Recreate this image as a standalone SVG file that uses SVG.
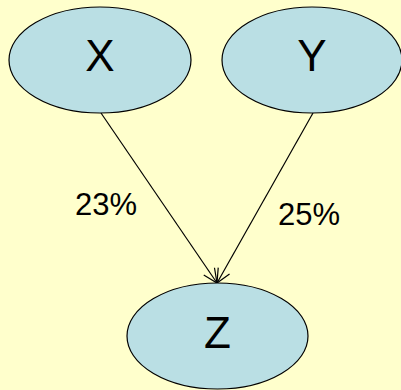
<svg xmlns="http://www.w3.org/2000/svg" width="401" height="390" viewBox="0 0 401 390">
<style>
.node ellipse{fill:#BADFE4;stroke:#000;stroke-width:1.2}
.node text{font-family:"Liberation Sans",Arial,sans-serif;font-size:44px;fill:#000;text-anchor:middle}
.lbl{font-family:"Liberation Sans",Arial,sans-serif;font-size:31px;fill:#000}
.edge{stroke:#000;stroke-width:1.2;fill:none}
</style>
<defs>
<marker id="arr" markerWidth="18" markerHeight="18" refX="15" refY="9" orient="auto" markerUnits="userSpaceOnUse">
<path d="M1,2.5 L15,9 L1,15.5" fill="none" stroke="#000" stroke-width="1.2"/>
</marker>
</defs>
<rect width="401" height="390" fill="#FFFFCC"/>
<g id="connectors">
<line class="edge" x1="101" y1="113" x2="217" y2="283" marker-end="url(#arr)"/>
<line class="edge" x1="313" y1="113" x2="217" y2="283" marker-end="url(#arr)"/>
<text class="lbl" x="75" y="215">23%</text>
<text class="lbl" x="278" y="225">25%</text>
</g>
<g id="X" class="node">
<ellipse cx="100" cy="60" rx="91" ry="53"/>
<text x="100" y="71">X</text>
</g>
<g id="Y" class="node">
<ellipse cx="312" cy="60" rx="90" ry="53"/>
<text x="312" y="71">Y</text>
</g>
<g id="Z" class="node">
<ellipse cx="217.5" cy="336" rx="90.5" ry="53"/>
<text x="217.5" y="348">Z</text>
</g>
</svg>
